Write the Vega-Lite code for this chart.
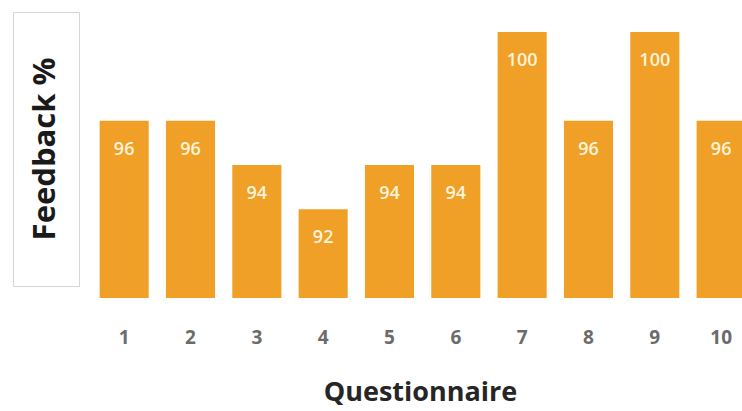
{
  "$schema": "https://vega.github.io/schema/vega-lite/v6.json",
  "padding": {"left": 12, "top": 11, "right": 0, "bottom": 0},
  "background": "white",
  "config": {"font": "Open Sans", "concat": {"spacing": 11}},
  "datasets": {
    "bars": [
      {"question": "1", "value": 96},
      {"question": "2", "value": 96},
      {"question": "3", "value": 94},
      {"question": "4", "value": 92},
      {"question": "5", "value": 94},
      {"question": "6", "value": 94},
      {"question": "7", "value": 100},
      {"question": "8", "value": 96},
      {"question": "9", "value": 100},
      {"question": "10", "value": 96}
    ],
    "ylabel": [{"label": "Feedback %"}]
  },
  "hconcat": [
    {
      "width": 66,
      "height": 274,
      "data": {"name": "ylabel"},
      "view": {"stroke": "#D6D6D6", "strokeWidth": 1},
      "mark": {"type": "text", "angle": 270, "font": "Open Sans", "fontWeight": "bold", "fontSize": 31, "color": "#1a1a1a", "align": "center", "baseline": "middle"},
      "encoding": {"text": {"field": "label", "type": "nominal"}}
    },
    {
      "width": 653,
      "height": 286,
      "data": {"name": "bars"},
      "view": {"stroke": null},
      "encoding": {
        "x": {
          "field": "question",
          "type": "ordinal",
          "sort": null,
          "scale": {"range": [0, 663.3], "paddingInner": 0.26, "paddingOuter": 0.13},
          "axis": {
            "title": "Questionnaire",
            "titleFont": "Open Sans",
            "titleFontWeight": "bold",
            "titleFontSize": 27,
            "titleColor": "#262626",
            "titlePadding": 32,
            "titleX": 329,
            "labelFont": "Open Sans",
            "labelFontWeight": "bold",
            "labelFontSize": 19,
            "labelColor": "#6b6b6b",
            "labelAngle": 0,
            "labelPadding": 30,
            "ticks": false,
            "tickSize": 0,
            "domain": false,
            "grid": false
          }
        },
        "y": {
          "field": "value",
          "type": "quantitative",
          "scale": {"domain": [88, 100.9], "nice": false, "zero": false},
          "axis": null
        }
      },
      "layer": [
        {"mark": {"type": "bar", "color": "#F0A027", "clip": true}},
        {
          "mark": {"type": "text", "baseline": "alphabetic", "align": "center", "dy": 34, "font": "Open Sans", "fontWeight": 600, "fontSize": 18, "color": "#FFF4DA"},
          "encoding": {"text": {"field": "value", "type": "quantitative"}}
        }
      ]
    }
  ]
}
